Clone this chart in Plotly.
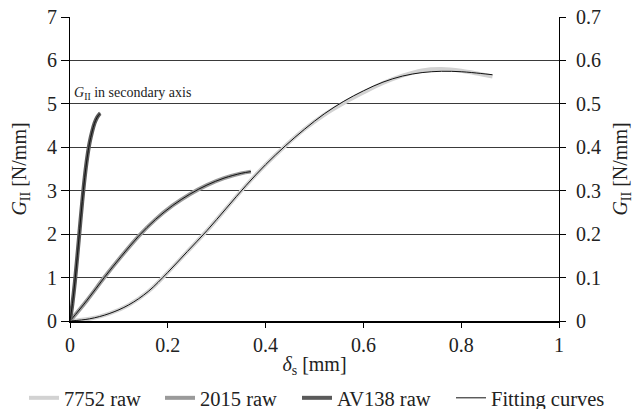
import plotly.graph_objects as go

# ---- data ----
x_7752 = [0, 0.04, 0.08, 0.12, 0.16, 0.20, 0.24, 0.28, 0.32, 0.36, 0.40, 0.44, 0.48, 0.52, 0.56, 0.60, 0.64, 0.68, 0.72, 0.76, 0.80, 0.84, 0.864]
y_7752 = [0, 0.05, 0.17, 0.37, 0.68, 1.12, 1.60, 2.08, 2.60, 3.12, 3.60, 4.03, 4.42, 4.75, 5.02, 5.26, 5.48, 5.65, 5.77, 5.80, 5.76, 5.68, 5.63]
fit_7752 = [0, 0.05, 0.17, 0.37, 0.68, 1.12, 1.60, 2.08, 2.60, 3.12, 3.60, 4.03, 4.42, 4.77, 5.06, 5.30, 5.50, 5.64, 5.72, 5.75, 5.74, 5.70, 5.67]

x_2015 = [0, 0.035, 0.07, 0.105, 0.14, 0.175, 0.21, 0.245, 0.28, 0.315, 0.35, 0.37]
y_2015 = [0, 0.48, 1.00, 1.49, 1.95, 2.34, 2.66, 2.92, 3.13, 3.29, 3.40, 3.44]

x_av138 = [0, 0.005, 0.01, 0.015, 0.02, 0.025, 0.03, 0.035, 0.04, 0.045, 0.05, 0.055, 0.06, 0.062]
y_av138 = [0, 0.04, 0.09, 0.15, 0.213, 0.275, 0.33, 0.375, 0.41, 0.435, 0.455, 0.468, 0.476, 0.478]

x_ticks = [0, 0.2, 0.4, 0.6, 0.8, 1]
x_tick_labels = ["0", "0.2", "0.4", "0.6", "0.8", "1"]

FONT = "Liberation Serif, Times New Roman, serif"
FS = 20
TXT = "#222222"

fig = go.Figure()

fig.add_trace(go.Scatter(x=x_7752, y=y_7752, mode="lines", name="7752 raw", legend="legend",
                         line=dict(color="#d2d2d2", width=4, shape="spline")))
fig.add_trace(go.Scatter(x=x_2015, y=y_2015, mode="lines", name="2015 raw", legend="legend2",
                         line=dict(color="#9a9a9a", width=4, shape="spline")))
fig.add_trace(go.Scatter(x=x_av138, y=y_av138, mode="lines", name="AV138 raw", yaxis="y2",
                         legend="legend3", line=dict(color="#5a5a5a", width=4, shape="spline")))
fig.add_trace(go.Scatter(x=x_7752, y=fit_7752, mode="lines", name="Fitting curves", legend="legend4",
                         line=dict(color="#111111", width=1, shape="spline")))
fig.add_trace(go.Scatter(x=x_2015, y=y_2015, mode="lines", name="Fitting curves", showlegend=False,
                         line=dict(color="#111111", width=1, shape="spline")))
fig.add_trace(go.Scatter(x=x_av138, y=y_av138, mode="lines", name="Fitting curves", showlegend=False,
                         yaxis="y2", line=dict(color="#111111", width=1, shape="spline")))

fig.add_annotation(x=0.004, y=5.25, xref="x", yref="y", xanchor="left", yanchor="middle",
                   text="<i>G</i><sub>II</sub> in secondary axis", showarrow=False,
                   font=dict(family=FONT, size=14, color=TXT))


def leg(px_left):
    return dict(orientation="h", xref="container", yref="container",
                x=px_left / 634, xanchor="left", y=1 - 398 / 409, yanchor="middle",
                font=dict(family=FONT, size=20.5, color=TXT), itemwidth=30,
                bgcolor="rgba(0,0,0,0)", borderwidth=0)


fig.update_layout(
    width=634, height=409,
    margin=dict(l=69.5, r=75, t=17, b=88, autoexpand=False),
    paper_bgcolor="white", plot_bgcolor="white",
    font=dict(family=FONT, size=FS, color=TXT),
    showlegend=True,
    legend=leg(24), legend2=leg(160), legend3=leg(297), legend4=leg(451),
    xaxis=dict(range=[0, 1], tickvals=x_ticks, ticktext=x_tick_labels, automargin=False,
               showgrid=False, zeroline=False, showline=True, linecolor="black", linewidth=2,
               ticks="outside", ticklen=5, tickcolor="black",
               tickfont=dict(family=FONT, size=FS, color=TXT),
               title=dict(text="<i>δ</i><sub>s</sub> [mm]",
                          font=dict(family=FONT, size=FS, color=TXT))),
    yaxis=dict(range=[0, 7], dtick=1, showgrid=True, gridcolor="#3a3a3a", gridwidth=1,
               automargin=False, zeroline=False, showline=True, linecolor="black", linewidth=1,
               ticks="outside", ticklen=8, tickcolor="black",
               tickfont=dict(family=FONT, size=FS, color=TXT),
               title=dict(text="<i>G</i><sub>II</sub> [N/mm]",
                          font=dict(family=FONT, size=FS, color=TXT))),
    yaxis2=dict(range=[0, 0.7], dtick=0.1, overlaying="y", side="right", anchor="x",
                automargin=False, showgrid=False, zeroline=False, showline=True,
                linecolor="black", linewidth=1, ticks="outside", ticklen=6, tickcolor="black",
                ticklabelstandoff=6,
                tickformat=".1~f", tickfont=dict(family=FONT, size=FS, color=TXT),
                title=dict(text="<i>G</i><sub>II</sub> [N/mm]",
                           font=dict(family=FONT, size=FS, color=TXT))),
)

fig.write_html("out.html", config={"displayModeBar": False},
               post_script="document.body.style.margin='0';document.body.style.overflow='hidden';")
